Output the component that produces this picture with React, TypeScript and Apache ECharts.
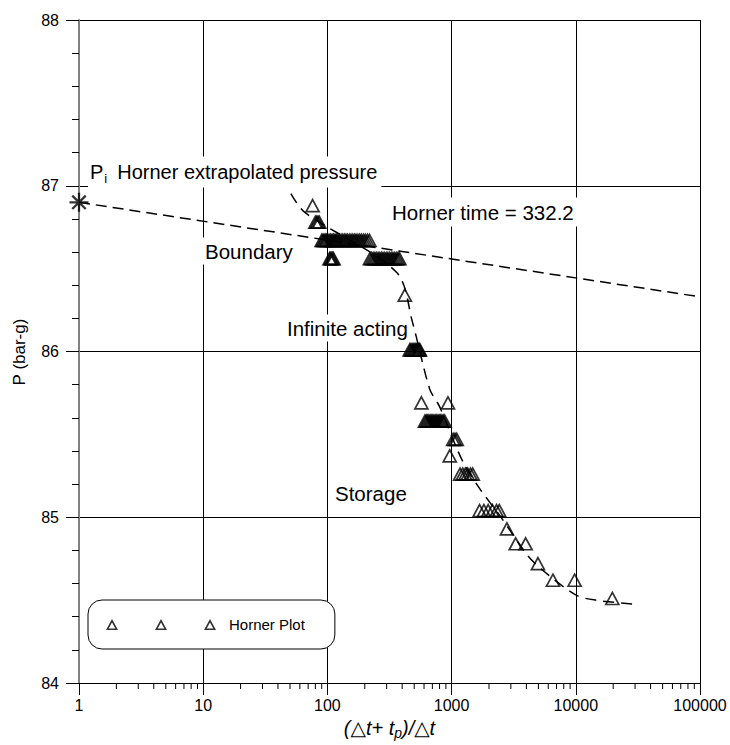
import React, { useEffect, useRef } from "react";
import * as echarts from "echarts";

const FONT = '"Liberation Sans", Arial, "DejaVu Sans", sans-serif';

// Axis tick labels and titles
const xTickLabels = ["1", "10", "100", "1000", "10000", "100000"];
const yTickLabels = ["84", "85", "86", "87", "88"];
const yTitle = "P (bar-g)";

// Horner plot data, grouped by pressure level (bar-g) with Horner times
const hornerLevels = [86.88, 86.78, 86.67, 86.56, 86.56, 86.34, 86.01, 85.69, 85.58, 85.47, 85.37, 85.26, 85.04, 84.93, 84.84, 84.72, 84.62, 84.51];
const hornerTimesByLevel = [
  [76],
  [80, 82, 84, 86],
  [90, 92, 94, 96, 98, 100, 103, 106, 109, 112, 115, 118, 121, 125, 129, 133, 137, 141, 145, 150, 155, 160, 165, 170, 176, 182, 188, 195, 202, 210, 218],
  [104, 106, 108, 110, 112],
  [220, 227, 234, 241, 248, 256, 264, 272, 280, 289, 298, 307, 317, 327, 337, 348, 359, 370, 380],
  [420],
  [460, 470, 480, 490, 500, 510, 520, 530, 540, 550, 556],
  [571, 935],
  [610, 625, 640, 656, 672, 688, 705, 722, 740, 758, 777, 796, 816, 836, 857, 880],
  [1030, 1065, 1100],
  [966],
  [1170, 1230, 1290, 1350, 1420, 1480],
  [1680, 1820, 1970, 2130, 2300, 2420],
  [2790],
  [3280, 3945],
  [4955],
  [6545, 9780],
  [19680],
];

// Horner straight line (extrapolation to Pi)
const extrapTime = [1, 100000];
const extrapPressure = [86.9, 86.33];

// Dashed trend through the build-up data
const trendTime = [50.8, 65.8, 360, 484, 666, 802, 1199, 1683, 2438, 4094, 5408, 10150, 14700, 30840];
const trendPressure = [86.953, 86.839, 86.478, 86.177, 85.774, 85.666, 85.354, 85.173, 85.011, 84.77, 84.68, 84.529, 84.499, 84.475];

// Pi point
const piTime = [1];
const piPressure = [86.9];

// log-axis minor tick multipliers and decades
const minorMultipliers = [2, 3, 4, 5, 6, 7, 8, 9];
const decades = [1, 10, 100, 1000, 10000];

function asteriskPath(L: number, w: number): string {
  let d = "";
  const c = L;
  for (let k = 0; k < 4; k++) {
    const th = (Math.PI * k) / 4;
    const ux = Math.cos(th), uy = Math.sin(th);
    const nx = -uy, ny = ux;
    const pts = [
      [c + L * ux + w * nx, c + L * uy + w * ny],
      [c + L * ux - w * nx, c + L * uy - w * ny],
      [c - L * ux - w * nx, c - L * uy - w * ny],
      [c - L * ux + w * nx, c - L * uy + w * ny],
    ];
    d += pts.map((p, i) => (i === 0 ? "M" : "L") + p[0].toFixed(2) + "," + p[1].toFixed(2)).join(" ") + " Z ";
  }
  return "path://" + d;
}

function legendTriangles(centers: number[]): string {
  let d = "";
  for (const c of centers) {
    d += `M${c - 6},11 L${c},0 L${c + 6},11 Z `;
    d += `M${(c - 3.3).toFixed(2)},9.4 L${(c + 3.3).toFixed(2)},9.4 L${c},3.4 Z `;
  }
  return "path://" + d;
}

export default function App() {
  const ref = useRef<HTMLDivElement>(null);
  useEffect(() => {
    if (!ref.current) return;
    const chart = echarts.init(ref.current, null, { renderer: "svg" });

    const hornerData: number[][] = [];
    hornerLevels.forEach((p, i) => {
      hornerTimesByLevel[i].forEach((t) => hornerData.push([t, p]));
    });
    const minorTickData: number[][] = [];
    decades.forEach((d) => minorMultipliers.forEach((m) => minorTickData.push([m * d, 84])));

    const option: any = {
      animation: false,
      backgroundColor: "#fff",
      textStyle: { fontFamily: FONT },
      grid: { left: 79, right: 30, top: 20, bottom: 60, containLabel: false },
      legend: {
        left: 88,
        top: 600,
        orient: "horizontal",
        padding: [17, 30, 17, 18],
        backgroundColor: "#fff",
        borderColor: "#000",
        borderWidth: 1,
        borderRadius: 14,
        itemWidth: 110,
        itemHeight: 11,
        data: [
          {
            name: "Horner Plot",
            icon: legendTriangles([6, 55, 104]),
            itemStyle: { color: "#000", borderWidth: 0 },
          },
        ],
        textStyle: { fontFamily: FONT, fontSize: 15, color: "#000", padding: [0, 0, 0, 8] },
      },
      xAxis: {
        type: "log",
        logBase: 10,
        min: 1,
        max: 100000,
        axisLine: { show: true, lineStyle: { color: "#000", width: 1 } },
        axisTick: { show: true, length: 12, lineStyle: { color: "#000", width: 1 } },
        axisLabel: {
          color: "#000",
          fontSize: 16,
          fontFamily: FONT,
          margin: 14,
          formatter: (v: number) => xTickLabels[Math.round(Math.log10(v))],
        },
        splitLine: { show: true, lineStyle: { color: "#000", width: 1 } },
        name: "{a|(△t+ t}{s|p}{a|)/△t}",
        nameLocation: "middle",
        nameGap: 33,
        nameTextStyle: {
          color: "#000",
          rich: {
            a: { fontFamily: FONT, fontSize: 20, fontStyle: "italic", color: "#000", lineHeight: 24 },
            s: { fontFamily: FONT, fontSize: 14, fontStyle: "italic", color: "#000", verticalAlign: "bottom", lineHeight: 14 },
          },
        },
      },
      yAxis: {
        type: "value",
        min: 84,
        max: 88,
        interval: 1,
        axisLine: { show: true, lineStyle: { color: "#808080", width: 2 } },
        axisTick: { show: true, length: 13, lineStyle: { color: "#000", width: 1 } },
        minorTick: { show: true, splitNumber: 5, length: 7, lineStyle: { color: "#000", width: 1 } },
        axisLabel: {
          color: "#000",
          fontSize: 16,
          fontFamily: FONT,
          margin: 20,
          formatter: (v: number) => yTickLabels[Math.round(v - 84)],
        },
        splitLine: { show: true, lineStyle: { color: "#000", width: 1 } },
      },
      graphic: [
        {
          type: "text",
          x: 19,
          y: 352,
          rotation: Math.PI / 2,
          z: 1,
          style: { text: yTitle, fontFamily: FONT, fontSize: 17, fill: "#000", align: "center", verticalAlign: "middle" },
        },
        {
          type: "text",
          x: 88,
          y: 172,
          z: 1,
          style: {
            text: "{p|P}{s|i}{q|Horner extrapolated pressure}",
            verticalAlign: "middle",
            backgroundColor: "#fff",
            padding: [3, 4, 3, 2],
            rich: {
              p: { fontFamily: FONT, fontSize: 20, fill: "#000", lineHeight: 25 },
              s: { fontFamily: FONT, fontSize: 13, fill: "#000", lineHeight: 13, verticalAlign: "bottom", padding: [0, 0, 0, 1] },
              q: { fontFamily: FONT, fontSize: 20, fill: "#000", lineHeight: 25, padding: [0, 0, 0, 10] },
            },
          },
        },
        {
          type: "text",
          x: 388,
          y: 212,
          z: 1,
          style: { text: "Horner time = 332.2", fontFamily: FONT, fontSize: 20.5, fill: "#000", verticalAlign: "middle", backgroundColor: "#fff", padding: [4, 4] },
        },
        {
          type: "text",
          x: 202,
          y: 251,
          z: 1,
          style: { text: "Boundary", fontFamily: FONT, fontSize: 20.5, fill: "#000", verticalAlign: "middle", backgroundColor: "#fff", padding: [3, 3] },
        },
        {
          type: "text",
          x: 283,
          y: 328,
          z: 1,
          style: { text: "Infinite acting", fontFamily: FONT, fontSize: 20.5, fill: "#000", verticalAlign: "middle", backgroundColor: "#fff", padding: [3, 4] },
        },
        {
          type: "text",
          x: 331,
          y: 493,
          z: 1,
          style: { text: "Storage", fontFamily: FONT, fontSize: 20.5, fill: "#000", verticalAlign: "middle", backgroundColor: "#fff", padding: [3, 4] },
        },
      ],
      series: [
        {
          type: "custom",
          name: "minorTicks",
          silent: true,
          z: 3,
          data: minorTickData,
          renderItem: (params: any, api: any) => {
            const p = api.coord([api.value(0), api.value(1)]);
            return {
              type: "line",
              shape: { x1: p[0], y1: p[1], x2: p[0], y2: p[1] + 6 },
              style: { stroke: "#000", lineWidth: 1 },
            };
          },
        },
        {
          type: "line",
          name: "Horner line",
          data: extrapTime.map((t, i) => [t, extrapPressure[i]]),
          symbol: "none",
          lineStyle: { color: "#000", width: 1.5, type: [11, 6] },
          z: 3,
        },
        {
          type: "line",
          name: "Trend",
          data: trendTime.map((t, i) => [t, trendPressure[i]]),
          symbol: "none",
          smooth: 0.3,
          lineStyle: { color: "#000", width: 1.5, type: [11, 7] },
          z: 3,
        },
        {
          type: "scatter",
          name: "Horner Plot",
          data: hornerData,
          symbol: "triangle",
          symbolSize: [13, 12],
          itemStyle: { color: "rgba(255,255,255,0)", borderColor: "#000", borderWidth: 1.7 },
          z: 4,
        },
        {
          type: "scatter",
          name: "Pi",
          data: piTime.map((t, i) => [t, piPressure[i]]),
          symbol: asteriskPath(10, 1.2),
          symbolSize: 19,
          itemStyle: { color: "#000" },
          clip: false,
          z: 5,
        },
      ],
    };

    chart.setOption(option);
    return () => chart.dispose();
  }, []);

  return (
    <div
      ref={ref}
      style={{ position: "fixed", left: 0, top: 0, width: 730, height: 745, background: "#fff" }}
    />
  );
}
